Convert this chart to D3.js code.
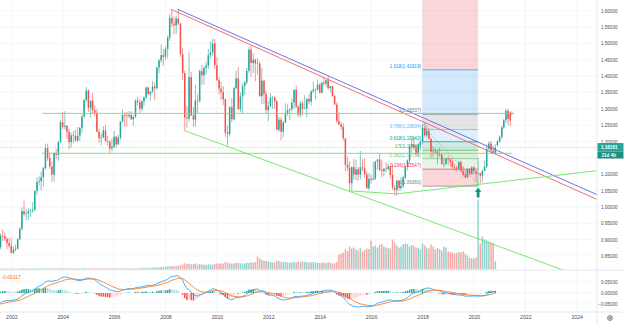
<!DOCTYPE html>
<html>
<head>
<meta charset="utf-8">
<script src="https://cdn.jsdelivr.net/npm/d3@7"></script>
<style>
  html, body { margin: 0; padding: 0; background: #fff; }
  svg { display: block; font-family: "Liberation Sans", Arial, sans-serif; }
</style>
</head>
<body>
<svg id="chart" width="625" height="325"></svg>
<script>
// ─── Data: EUR/USD monthly ────────────────────────────────────────────────────
const START        = new Date(2001, 6, 1);   // first visible candle, Jul 2001
const WARMUP_START = new Date(1999, 0, 1);   // closes before the window, only feed the MACD

const warmupCloses = [
  1.1575, 1.1000, 1.0765, 1.0595, 1.0430, 1.0350, 1.0670, 1.0585, 1.0675, 1.0505, 1.0075, 1.0070,
  0.9725, 0.9665, 0.9565, 0.9130, 0.9325, 0.9525, 0.9290, 0.8890, 0.8830, 0.8490, 0.8730, 0.9390,
  0.9360, 0.9210, 0.8790, 0.8880, 0.8490, 0.8470
];

const highs = [
  0.8826, 0.9193, 0.9311, 0.9220, 0.9080, 0.9060,
  0.9040, 0.8800, 0.8850, 0.9040, 0.9380, 0.9980, 1.0190, 0.9930, 0.9960, 0.9935, 1.0150, 1.0500,
  1.0900, 1.0935, 1.1080, 1.1230, 1.1930, 1.1935, 1.1660, 1.1380, 1.1680, 1.1780, 1.2010, 1.2650,
  1.2900, 1.2930, 1.2500, 1.2390, 1.2270, 1.2320, 1.2370, 1.2450, 1.2440, 1.2820, 1.3300, 1.3670,
  1.3600, 1.3250, 1.3480, 1.3110, 1.3000, 1.2390, 1.2250, 1.2470, 1.2510, 1.2170, 1.2040, 1.2090,
  1.2320, 1.2160, 1.2200, 1.2630, 1.2980, 1.2890, 1.2900, 1.2930, 1.2920, 1.2800, 1.3290, 1.3370,
  1.3290, 1.3260, 1.3380, 1.3680, 1.3680, 1.3540, 1.3850, 1.3800, 1.4280, 1.4530, 1.4970, 1.4830,
  1.4900, 1.5240, 1.5900, 1.6020, 1.5820, 1.5840, 1.6038, 1.5620, 1.4870, 1.4170, 1.3080, 1.4720,
  1.4130, 1.3060, 1.3740, 1.3440, 1.4200, 1.4340, 1.4300, 1.4440, 1.4840, 1.5060, 1.5140, 1.5140,
  1.4580, 1.3970, 1.3820, 1.3690, 1.3330, 1.2480, 1.3090, 1.3330, 1.3680, 1.4160, 1.4280, 1.3500,
  1.3800, 1.3860, 1.4250, 1.4880, 1.4940, 1.4700, 1.4540, 1.4550, 1.4460, 1.4250, 1.3900, 1.3550,
  1.3230, 1.3480, 1.3390, 1.3390, 1.3280, 1.2750, 1.2750, 1.2640, 1.3170, 1.3140, 1.3010, 1.3310,
  1.3590, 1.3710, 1.3110, 1.3240, 1.3240, 1.3420, 1.3340, 1.3450, 1.3570, 1.3830, 1.3620, 1.3890,
  1.3790, 1.3830, 1.3970, 1.3900, 1.3990, 1.3700, 1.3700, 1.3440, 1.3200, 1.2890, 1.2600, 1.2570,
  1.2100, 1.1530, 1.1390, 1.1230, 1.1470, 1.1440, 1.1220, 1.1710, 1.1460, 1.1490, 1.1090, 1.1040,
  1.0990, 1.1380, 1.1410, 1.1460, 1.1620, 1.1430, 1.1190, 1.1370, 1.1330, 1.1240, 1.1300, 1.0670,
  1.0830, 1.0830, 1.0910, 1.0950, 1.1270, 1.1450, 1.1910, 1.2070, 1.2090, 1.1880, 1.1960, 1.2030,
  1.2540, 1.2560, 1.2480, 1.2410, 1.2100, 1.1850, 1.1790, 1.1740, 1.1820, 1.1620, 1.1500, 1.1490,
  1.1570, 1.1490, 1.1450, 1.1320, 1.1260, 1.1410, 1.1410, 1.1250, 1.1110, 1.1180, 1.1180, 1.1240,
  1.1240, 1.1100, 1.1500, 1.1040, 1.1147, 1.1422, 1.1908, 1.2011, 1.2011, 1.1881, 1.1920
];

const lows = [
  0.8352, 0.8707, 0.8960, 0.8960, 0.8715, 0.8730,
  0.8577, 0.8564, 0.8646, 0.8700, 0.8990, 0.9270, 0.9710, 0.9600, 0.9610, 0.9690, 0.9820, 0.9870,
  1.0360, 1.0660, 1.0500, 1.0620, 1.1150, 1.1410, 1.1160, 1.0760, 1.0770, 1.1450, 1.1410, 1.1940,
  1.2380, 1.2370, 1.2080, 1.1760, 1.1810, 1.1950, 1.2000, 1.1990, 1.2020, 1.2260, 1.2710, 1.3200,
  1.2900, 1.2730, 1.2860, 1.2780, 1.2290, 1.1960, 1.1870, 1.2100, 1.1990, 1.1870, 1.1640, 1.1700,
  1.1800, 1.1820, 1.1890, 1.2050, 1.2580, 1.2460, 1.2460, 1.2710, 1.2660, 1.2480, 1.2720, 1.3100,
  1.2870, 1.2920, 1.3080, 1.3300, 1.3410, 1.3260, 1.3490, 1.3260, 1.3590, 1.4080, 1.4400, 1.4320,
  1.4500, 1.4540, 1.5080, 1.5500, 1.5280, 1.5290, 1.5550, 1.4590, 1.3880, 1.2330, 1.2420, 1.2620,
  1.2780, 1.2460, 1.2450, 1.2880, 1.3190, 1.3740, 1.3740, 1.4050, 1.4220, 1.4540, 1.4620, 1.4220,
  1.3860, 1.3440, 1.3270, 1.3110, 1.2140, 1.1880, 1.2150, 1.2590, 1.2650, 1.3600, 1.2970, 1.2900,
  1.2870, 1.3430, 1.3750, 1.4100, 1.3970, 1.4090, 1.3840, 1.4050, 1.3360, 1.3140, 1.3140, 1.2860,
  1.2620, 1.3040, 1.3000, 1.3000, 1.2340, 1.2290, 1.2040, 1.2130, 1.2560, 1.2800, 1.2660, 1.2920,
  1.3000, 1.3030, 1.2750, 1.2740, 1.2790, 1.2990, 1.2750, 1.3140, 1.3100, 1.3490, 1.3290, 1.3550,
  1.3480, 1.3470, 1.3710, 1.3670, 1.3590, 1.3500, 1.3370, 1.3130, 1.2570, 1.2500, 1.2360, 1.2030,
  1.1100, 1.1100, 1.0460, 1.0520, 1.0820, 1.0820, 1.0800, 1.0850, 1.1100, 1.0890, 1.0560, 1.0520,
  1.0710, 1.0810, 1.0820, 1.1140, 1.1100, 1.0910, 1.0950, 1.1050, 1.1120, 1.0850, 1.0520, 1.0350,
  1.0340, 1.0490, 1.0500, 1.0570, 1.0840, 1.1120, 1.1310, 1.1660, 1.1720, 1.1570, 1.1550, 1.1720,
  1.1920, 1.2150, 1.2150, 1.2075, 1.1510, 1.1510, 1.1610, 1.1300, 1.1530, 1.1300, 1.1210, 1.1270,
  1.1290, 1.1230, 1.1180, 1.1110, 1.1110, 1.1160, 1.1070, 1.0925, 1.0880, 1.0880, 1.0980, 1.0980,
  1.0990, 1.0780, 1.0636, 1.0727, 1.0767, 1.1100, 1.1185, 1.1711, 1.1612, 1.1622, 1.1603
];

const closes = [
  0.8767, 0.9116, 0.9103, 0.9025, 0.8895, 0.8813,
  0.8590, 0.8700, 0.8720, 0.9010, 0.9335, 0.9870, 0.9780, 0.9800, 0.9870, 0.9890, 0.9920, 1.0490,
  1.0760, 1.0790, 1.0910, 1.1180, 1.1800, 1.1490, 1.1230, 1.0990, 1.1650, 1.1590, 1.1990, 1.2590,
  1.2450, 1.2480, 1.2300, 1.1980, 1.2190, 1.2170, 1.2030, 1.2180, 1.2420, 1.2760, 1.3270, 1.3560,
  1.3030, 1.3250, 1.2960, 1.2880, 1.2300, 1.2100, 1.2120, 1.2340, 1.2020, 1.1990, 1.1790, 1.1840,
  1.2150, 1.1920, 1.2120, 1.2620, 1.2810, 1.2790, 1.2770, 1.2810, 1.2680, 1.2760, 1.3250, 1.3200,
  1.3000, 1.3230, 1.3350, 1.3650, 1.3450, 1.3530, 1.3680, 1.3630, 1.4270, 1.4480, 1.4640, 1.4590,
  1.4830, 1.5180, 1.5780, 1.5610, 1.5550, 1.5760, 1.5610, 1.4670, 1.4090, 1.2740, 1.2700, 1.3970,
  1.2800, 1.2670, 1.3250, 1.3240, 1.4150, 1.4030, 1.4250, 1.4320, 1.4640, 1.4720, 1.5000, 1.4330,
  1.3870, 1.3620, 1.3510, 1.3290, 1.2270, 1.2230, 1.3050, 1.2680, 1.3630, 1.3930, 1.2990, 1.3380,
  1.3700, 1.3810, 1.4160, 1.4810, 1.4400, 1.4500, 1.4390, 1.4380, 1.3390, 1.3860, 1.3450, 1.2960,
  1.3080, 1.3340, 1.3340, 1.3230, 1.2360, 1.2670, 1.2300, 1.2580, 1.2860, 1.2960, 1.2990, 1.3190,
  1.3580, 1.3060, 1.2820, 1.3170, 1.3000, 1.3010, 1.3300, 1.3220, 1.3530, 1.3580, 1.3590, 1.3740,
  1.3490, 1.3800, 1.3770, 1.3870, 1.3630, 1.3690, 1.3390, 1.3130, 1.2630, 1.2520, 1.2450, 1.2100,
  1.1290, 1.1200, 1.0730, 1.1220, 1.0990, 1.1150, 1.0990, 1.1210, 1.1180, 1.1000, 1.0570, 1.0860,
  1.0830, 1.0870, 1.1380, 1.1450, 1.1130, 1.1100, 1.1170, 1.1160, 1.1240, 1.0980, 1.0590, 1.0520,
  1.0800, 1.0580, 1.0650, 1.0900, 1.1240, 1.1420, 1.1840, 1.1910, 1.1810, 1.1640, 1.1900, 1.2000,
  1.2410, 1.2190, 1.2320, 1.2080, 1.1690, 1.1680, 1.1690, 1.1600, 1.1600, 1.1310, 1.1320, 1.1470,
  1.1450, 1.1370, 1.1220, 1.1210, 1.1170, 1.1370, 1.1090, 1.0990, 1.0900, 1.1150, 1.1020, 1.1210,
  1.1090, 1.1020, 1.1030, 1.0955, 1.1100, 1.1234, 1.1776, 1.1937, 1.1720, 1.1646, 1.1816
];

const volumes = [
  8, 9, 10, 8, 9, 8,
  8, 9, 8, 9, 10, 11, 12, 10, 9, 9, 10, 10,
  10, 11, 11, 10, 12, 12, 11, 11, 12, 10, 11, 12,
  12, 11, 12, 12, 11, 10, 11, 10, 11, 12, 13, 12,
  12, 13, 12, 11, 12, 13, 12, 11, 12, 11, 12, 11,
  11, 12, 11, 12, 13, 12, 11, 10, 11, 11, 12, 12,
  13, 14, 15, 16, 15, 16, 18, 22, 20, 22, 25, 24,
  28, 30, 36, 35, 32, 34, 40, 42, 50, 62, 55, 58,
  52, 55, 60, 48, 55, 50, 48, 46, 52, 50, 48, 55,
  60, 58, 62, 60, 75, 70, 62, 58, 60, 65, 68, 62,
  58, 62, 70, 65, 72, 68, 75, 130, 110, 95, 90, 85,
  80, 75, 72, 70, 88, 85, 78, 72, 75, 70, 68, 72,
  78, 72, 80, 75, 82, 78, 74, 70, 72, 76, 70, 68,
  65, 68, 70, 62, 72, 68, 60, 62, 75, 150, 160, 170,
  200, 185, 230, 210, 220, 200, 190, 215, 180, 195, 210, 205,
  287, 230, 240, 220, 245, 255, 230, 220, 215, 210, 300, 270,
  240, 220, 230, 250, 260, 255, 230, 245, 235, 220, 215, 200,
  260, 240, 220, 210, 250, 230, 200, 215, 205, 190, 230, 220,
  180, 175, 170, 160, 165, 175, 170, 180, 160, 140, 115, 110,
  110, 120, 700, 260, 330, 300, 290, 280, 270, 265, 83
];

// projected bars drawn after the last real month (Dec 2020 – Jun 2021)
const PROJ_START = new Date(2020, 11, 1);
const projOpen  = [1.1890, 1.2000, 1.2140, 1.2430, 1.2660, 1.2940, 1.2880];
const projHigh  = [1.2050, 1.2180, 1.2480, 1.2700, 1.2990, 1.3000, 1.2930];
const projLow   = [1.1860, 1.1960, 1.2080, 1.2380, 1.2560, 1.2500, 1.2470];
const projClose = [1.2000, 1.2140, 1.2430, 1.2660, 1.2940, 1.2690, 1.2640];

const priceTicks = [0.85, 0.90, 0.95, 1.00, 1.05, 1.10, 1.15, 1.20, 1.25, 1.30, 1.35, 1.40, 1.45, 1.50, 1.55, 1.60];
const hiddenPriceLabels = [1.15];             // covered by the last-price tag
const macdTicks      = [0.05, 0, -0.05];
const macdTickLabels = ['0.05000', '0.00000', '\u22120.05000'];
const yearTicks = [2002, 2004, 2006, 2008, 2010, 2012, 2014, 2016, 2018, 2020, 2022, 2024];

// Fibonacci tool (Jan 2018 → Mar 2020)
const fibRatios = [0, 0.236, 0.382, 0.5, 0.618, 0.786, 1, 1.618, 2.618];
const fibPrices = [1.06360, 1.11547, 1.14755, 1.17349, 1.19942, 1.23634, 1.28337, 1.41919, 1.63899];
const fibColors = ['#787b86', '#f23645', '#81c784', '#4caf50', '#089981', '#64b5f6', '#787b86', '#2196f3', '#f23645'];

const LAST_PRICE = 1.18161;

// ─── Layout ───────────────────────────────────────────────────────────────────
const W = 625, H = 325;
const PANE_R = 597;          // price scale starts here
const MAIN_B = 270;          // bottom of price pane
const MACD_B = 312;          // bottom of MACD pane
const BODY_W = 1.5;
const UP = '#26a69a', DN = '#ef5350';
const GREEN = '#66e85a';

const yr = v => {            // decimal year -> Date
  const y0 = Math.floor(v);
  const a = new Date(y0, 0, 1), b = new Date(y0 + 1, 0, 1);
  return new Date(+a + (v - y0) * (b - a));
};

const x  = d3.scaleTime().domain([new Date(2002, 0, 1), new Date(2024, 0, 1)]).range([11.3, 576.7]);
const y  = d3.scaleLinear().domain([0.85, 1.60]).range([256, 10.7]);
const yM = d3.scaleLinear().domain([-0.05, 0.05]).range([304, 282]);
const yV = d3.scaleLinear().domain([0, 700]).range([269.5, 199.5]);

// ─── Series ───────────────────────────────────────────────────────────────────
const candles = closes.map((c, i) => ({
  date: d3.timeMonth.offset(START, i),
  o: i ? closes[i - 1] : warmupCloses[warmupCloses.length - 1],
  h: highs[i], l: lows[i], c, v: volumes[i]
}));
const projected = projClose.map((c, i) => ({
  date: d3.timeMonth.offset(PROJ_START, i),
  o: projOpen[i], h: projHigh[i], l: projLow[i], c
}));

// MACD(12, 26, 9) on the closes
function ema(vals, n) {
  const k = 2 / (n + 1);
  let e = vals[0];
  return vals.map((v, i) => i ? (e = v * k + e * (1 - k)) : e);
}
const allCloses = warmupCloses.concat(closes);
const e12 = ema(allCloses, 12), e26 = ema(allCloses, 26);
const macdLine = e12.map((v, i) => v - e26[i]);
const signal   = ema(macdLine, 9);
const macd = macdLine.map((m, i) => ({
  date: d3.timeMonth.offset(WARMUP_START, i), m, s: signal[i], h: m - signal[i]
}));
macd.forEach((d, i) => {
  const prev = i ? macd[i - 1].h : d.h;
  d.col = d.h >= 0 ? (d.h >= prev ? '#26a69a' : '#b2dfdb') : (d.h < prev ? '#ff5252' : '#ffcdd2');
});

// drawings: [date, price] anchors
const trendLines = [
  { a: [yr(2008.214), 1.6043], b: [yr(2024.778), 1.0232], color: '#f25c5c' },
  { a: [yr(2008.475), 1.6043], b: [yr(2024.778), 1.0379], color: '#5c63e8' },
  { a: [new Date(2008, 9, 1), 1.2330], b: [yr(2023.467), 0.8070], color: GREEN },
  { a: [new Date(2015, 2, 1), 1.0490], b: [new Date(2017, 0, 1), 1.0400], color: GREEN },
  { a: [new Date(2017, 0, 1), 1.0400], b: [yr(2024.778), 1.1107], color: GREEN },
  { a: [yr(2003.195), 1.2860], b: [yr(2021.475), 1.2860], color: GREEN },
  { a: [yr(2003.195), 1.1640], b: [yr(2021.475), 1.1640], color: GREEN }
];
const dashedTrend = { a: [yr(2018.0), 1.2500], b: [yr(2020.12), 1.0730] };
const fibFrom = new Date(2018, 0, 1), fibTo = new Date(2020, 2, 1);

// ─── Draw ─────────────────────────────────────────────────────────────────────
const svg = d3.select('#chart');
const defs = svg.append('defs');
defs.append('clipPath').attr('id', 'clip-main')
  .append('rect').attr('x', 0).attr('y', 0).attr('width', PANE_R).attr('height', MAIN_B);
defs.append('clipPath').attr('id', 'clip-macd')
  .append('rect').attr('x', 0).attr('y', MAIN_B).attr('width', PANE_R).attr('height', MACD_B - MAIN_B);

svg.append('rect').attr('width', W).attr('height', H).attr('fill', '#fff');

// grid
const grid = svg.append('g').attr('stroke', '#eef0f4').attr('stroke-width', 0.6);
grid.selectAll('.vg').data(yearTicks).join('line')
  .attr('x1', d => x(new Date(d, 0, 1))).attr('x2', d => x(new Date(d, 0, 1)))
  .attr('y1', 0).attr('y2', MACD_B);
grid.selectAll('.hg').data(priceTicks).join('line')
  .attr('x1', 0).attr('x2', PANE_R).attr('y1', d => y(d)).attr('y2', d => y(d));
grid.selectAll('.mg').data(macdTicks).join('line')
  .attr('x1', 0).attr('x2', PANE_R).attr('y1', d => yM(d)).attr('y2', d => yM(d));

const main = svg.append('g').attr('clip-path', 'url(#clip-main)');

// ── Fibonacci bands ───────────────────────────────────────────────────────
const fx0 = x(fibFrom), fx1 = x(fibTo);
const bands = fibPrices.slice(1).map((p, i) => ({ lo: fibPrices[i], hi: p, color: fibColors[i + 1] }));
main.selectAll('.fib-band').data(bands).join('rect')
  .attr('x', fx0).attr('width', fx1 - fx0)
  .attr('y', d => y(d.hi)).attr('height', d => y(d.lo) - y(d.hi))
  .attr('fill', d => d.color).attr('fill-opacity', 0.2);
main.selectAll('.fib-line').data(fibPrices).join('line')
  .attr('x1', fx0).attr('x2', fx1).attr('y1', d => y(d)).attr('y2', d => y(d))
  .attr('stroke', (d, i) => fibColors[i]).attr('stroke-width', 0.7);

// ── Volume ────────────────────────────────────────────────────────────────
main.selectAll('.vol').data(candles).join('rect')
  .attr('x', d => x(d.date) - BODY_W / 2).attr('width', BODY_W)
  .attr('y', d => yV(d.v)).attr('height', d => yV(0) - yV(d.v))
  .attr('fill', d => d.c >= d.o ? UP : DN).attr('fill-opacity', 0.5);

// ── Candles ───────────────────────────────────────────────────────────────
function drawCandles(g, data) {
  const c = g.selectAll(null).data(data).join('g');
  c.append('line')
    .attr('x1', d => x(d.date)).attr('x2', d => x(d.date))
    .attr('y1', d => y(Math.max(d.h, d.o, d.c))).attr('y2', d => y(Math.min(d.l, d.o, d.c)))
    .attr('stroke', d => d.c >= d.o ? UP : DN).attr('stroke-width', 0.6);
  c.append('rect')
    .attr('x', d => x(d.date) - BODY_W / 2).attr('width', BODY_W)
    .attr('y', d => y(Math.max(d.o, d.c)))
    .attr('height', d => Math.max(0.6, Math.abs(y(d.o) - y(d.c))))
    .attr('fill', d => d.c >= d.o ? UP : DN);
}
drawCandles(main.append('g'), candles);
drawCandles(main.append('g'), projected);

// current price line
main.append('line')
  .attr('x1', 0).attr('x2', PANE_R).attr('y1', y(LAST_PRICE)).attr('y2', y(LAST_PRICE))
  .attr('stroke', UP).attr('stroke-width', 0.6).attr('stroke-dasharray', '1,1.5').attr('opacity', 0.7);

// ── Trend lines ───────────────────────────────────────────────────────────
main.selectAll('.trend').data(trendLines).join('line')
  .attr('x1', d => x(d.a[0])).attr('y1', d => y(d.a[1]))
  .attr('x2', d => x(d.b[0])).attr('y2', d => y(d.b[1]))
  .attr('stroke', d => d.color).attr('stroke-width', 0.9);
main.append('line')
  .attr('x1', x(dashedTrend.a[0])).attr('y1', y(dashedTrend.a[1]))
  .attr('x2', x(dashedTrend.b[0])).attr('y2', y(dashedTrend.b[1]))
  .attr('stroke', '#9598a1').attr('stroke-width', 0.7).attr('stroke-dasharray', '1.5,1.5');

// "+" handle at the end of the upper horizontal line
const hEnd = trendLines[5].b;
main.append('path')
  .attr('d', `M${x(hEnd[0]) - 2},${y(hEnd[1])}h4M${x(hEnd[0])},${y(hEnd[1]) - 2}v4`)
  .attr('stroke', GREEN).attr('stroke-width', 0.9);

// arrow mark under the Mar 2020 low
const ax = x(new Date(2020, 2, 1)), aTip = y(1.0598), aTail = y(1.0292);
main.append('path')
  .attr('d', `M${ax},${aTip}L${ax + 3.2},${aTip + 4.5}L${ax + 1.4},${aTip + 4.5}L${ax + 1.4},${aTail}` +
             `L${ax - 1.4},${aTail}L${ax - 1.4},${aTip + 4.5}L${ax - 3.2},${aTip + 4.5}Z`)
  .attr('fill', '#089981');

// fib labels
main.selectAll('.fib-label').data(fibRatios.slice(0, 8)).join('text')
  .attr('x', fx0 - 1.5).attr('y', (d, i) => y(fibPrices[i]) - 2)
  .attr('text-anchor', 'end').attr('font-size', 4.6)
  .attr('fill', (d, i) => fibColors[i])
  .text((d, i) => `${d}(${fibPrices[i].toFixed(5)})`);

// ── MACD pane ─────────────────────────────────────────────────────────────
const mp = svg.append('g').attr('clip-path', 'url(#clip-macd)');
mp.selectAll('.hist').data(macd).join('rect')
  .attr('x', d => x(d.date) - BODY_W / 2).attr('width', BODY_W)
  .attr('y', d => Math.min(yM(0), yM(d.h))).attr('height', d => Math.abs(yM(d.h) - yM(0)))
  .attr('fill', d => d.col);
mp.append('path').datum(macd)
  .attr('d', d3.line().x(d => x(d.date)).y(d => yM(d.m)))
  .attr('fill', 'none').attr('stroke', '#2196f3').attr('stroke-width', 0.8);
mp.append('path').datum(macd)
  .attr('d', d3.line().x(d => x(d.date)).y(d => yM(d.s)))
  .attr('fill', 'none').attr('stroke', '#ff6d00').attr('stroke-width', 0.8);
svg.append('text').attr('x', 1.5).attr('y', 279).attr('font-size', 5)
  .attr('fill', '#ff6d00').text('-0.00117');

// ── Pane borders ──────────────────────────────────────────────────────────
const border = svg.append('g').attr('stroke', '#dfe2e8').attr('stroke-width', 0.8);
border.append('line').attr('x1', 0).attr('x2', W).attr('y1', MAIN_B).attr('y2', MAIN_B);
border.append('line').attr('x1', 0).attr('x2', W).attr('y1', MACD_B).attr('y2', MACD_B);
border.append('line').attr('x1', PANE_R).attr('x2', PANE_R).attr('y1', 0).attr('y2', H);

// ── Axes ──────────────────────────────────────────────────────────────────
const axisStyle = g => {
  g.select('.domain').remove();
  g.selectAll('text').attr('fill', '#4a4e59').attr('font-family', '"Liberation Sans", Arial, sans-serif');
};
svg.append('g').attr('transform', `translate(${PANE_R},0)`)
  .call(d3.axisRight(y).tickValues(priceTicks.filter(d => !hiddenPriceLabels.includes(d)))
    .tickFormat(d3.format('.5f')).tickSize(0))
  .call(axisStyle)
  .call(g => g.selectAll('text').attr('x', 20.5).attr('text-anchor', 'end').attr('font-size', 4.6));
svg.append('g').attr('transform', `translate(${PANE_R},0)`)
  .call(d3.axisRight(yM).tickValues(macdTicks).tickFormat((d, i) => macdTickLabels[i]).tickSize(0))
  .call(axisStyle)
  .call(g => g.selectAll('text').attr('x', 20.5).attr('text-anchor', 'end').attr('font-size', 4.6));
svg.append('g').attr('transform', `translate(0,${MACD_B})`)
  .call(d3.axisBottom(x).tickValues(yearTicks.map(d => new Date(d, 0, 1)))
    .tickFormat(d3.timeFormat('%Y')).tickSize(0).tickPadding(3.8))
  .call(axisStyle)
  .call(g => g.selectAll('text').attr('font-size', 5.2));

// last price tag + countdown
const tag = svg.append('g');
tag.append('rect').attr('x', PANE_R + 0.5).attr('y', y(LAST_PRICE) - 4.5).attr('width', 26).attr('height', 8.5)
  .attr('fill', UP);
tag.append('text').attr('x', 617.5).attr('y', y(LAST_PRICE) + 1.8).attr('text-anchor', 'end')
  .attr('font-size', 4.6).attr('font-weight', 700).attr('fill', '#fff').text(LAST_PRICE.toFixed(5));
tag.append('rect').attr('x', PANE_R + 0.5).attr('y', y(LAST_PRICE) + 4).attr('width', 26).attr('height', 7)
  .attr('fill', '#1f8f85');
tag.append('text').attr('x', 616).attr('y', y(LAST_PRICE) + 9.6).attr('text-anchor', 'end')
  .attr('font-size', 4.6).attr('font-weight', 700).attr('fill', '#fff').text('21d 4h');

// settings gear
const gear = svg.append('g').attr('transform', 'translate(610,318)')
  .attr('fill', 'none').attr('stroke', '#50535e').attr('stroke-width', 0.8);
gear.append('circle').attr('r', 2.4);
gear.append('circle').attr('r', 0.9);
</script>
</body>
</html>
